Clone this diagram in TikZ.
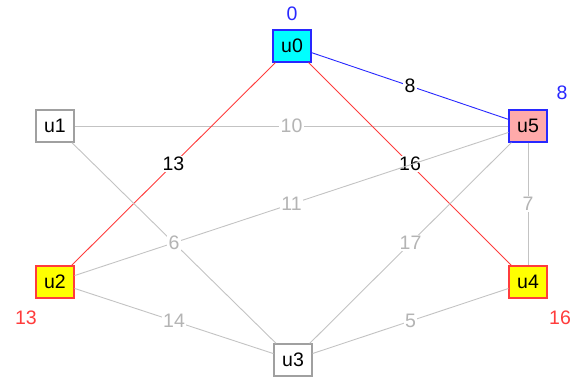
\documentclass[tikz,border=0pt]{standalone}
\usepackage{fontspec}
\setmainfont{Liberation Sans}
\definecolor{ered}{RGB}{255,60,60}
\definecolor{eblue}{RGB}{40,40,255}
\definecolor{egray}{RGB}{195,195,195}
\definecolor{lgray}{RGB}{180,180,180}
\definecolor{ngray}{RGB}{160,160,160}
\definecolor{npink}{RGB}{255,170,170}
\definecolor{ncyan}{RGB}{0,255,255}
\definecolor{nyellow}{RGB}{255,255,0}
\begin{document}
\begin{tikzpicture}[x=1pt,y=-1pt,
  font=\fontsize{19.5}{21}\selectfont,
  vbox/.style={draw, line width=1.2pt, minimum width=38pt, minimum height=32pt, inner sep=0pt},
  wlab/.style={fill=white, inner sep=1.5pt},
  gedge/.style={egray, line width=0.9pt},
  redge/.style={ered, line width=0.9pt},
  bedge/.style={eblue, line width=0.9pt},
  glab/.style={wlab, text=lgray},
  klab/.style={wlab, text=black}]
\useasboundingbox (0,0) rectangle (577,384);
\node[vbox, draw=eblue, fill=ncyan] (u0) at (292,46) {u0};
\node[vbox, draw=ngray, fill=white] (u1) at (55,126) {u1};
\node[vbox, draw=ered, fill=nyellow] (u2) at (55,282) {u2};
\node[vbox, draw=ngray, fill=white] (u3) at (293,360) {u3};
\node[vbox, draw=ered, fill=nyellow] (u4) at (528,282) {u4};
\node[vbox, draw=eblue, fill=npink] (u5) at (528,126) {u5};

\draw[bedge] (u0) -- node[klab] {8} (u5);
\draw[gedge] (u1) -- node[glab] {10} (u5);
\draw[redge] (u0) -- node[klab] {13} (u2);
\draw[redge] (u0) -- node[klab] {16} (u4);
\draw[gedge] (u2) -- node[glab] {11} (u5);
\draw[gedge] (u1) -- node[glab] {6} (u3);
\draw[gedge] (u5) -- node[glab] {17} (u3);
\draw[gedge] (u5) -- node[glab] {7} (u4);
\draw[gedge] (u2) -- node[glab] {14} (u3);
\draw[gedge] (u3) -- node[glab] {5} (u4);

\node[text=eblue] (d0) at (292,14) {0};
\node[text=eblue] (d5) at (562,93) {8};
\node[text=ered] (d2) at (26,318) {13};
\node[text=ered] (d4) at (560,318) {16};
\end{tikzpicture}
\end{document}
